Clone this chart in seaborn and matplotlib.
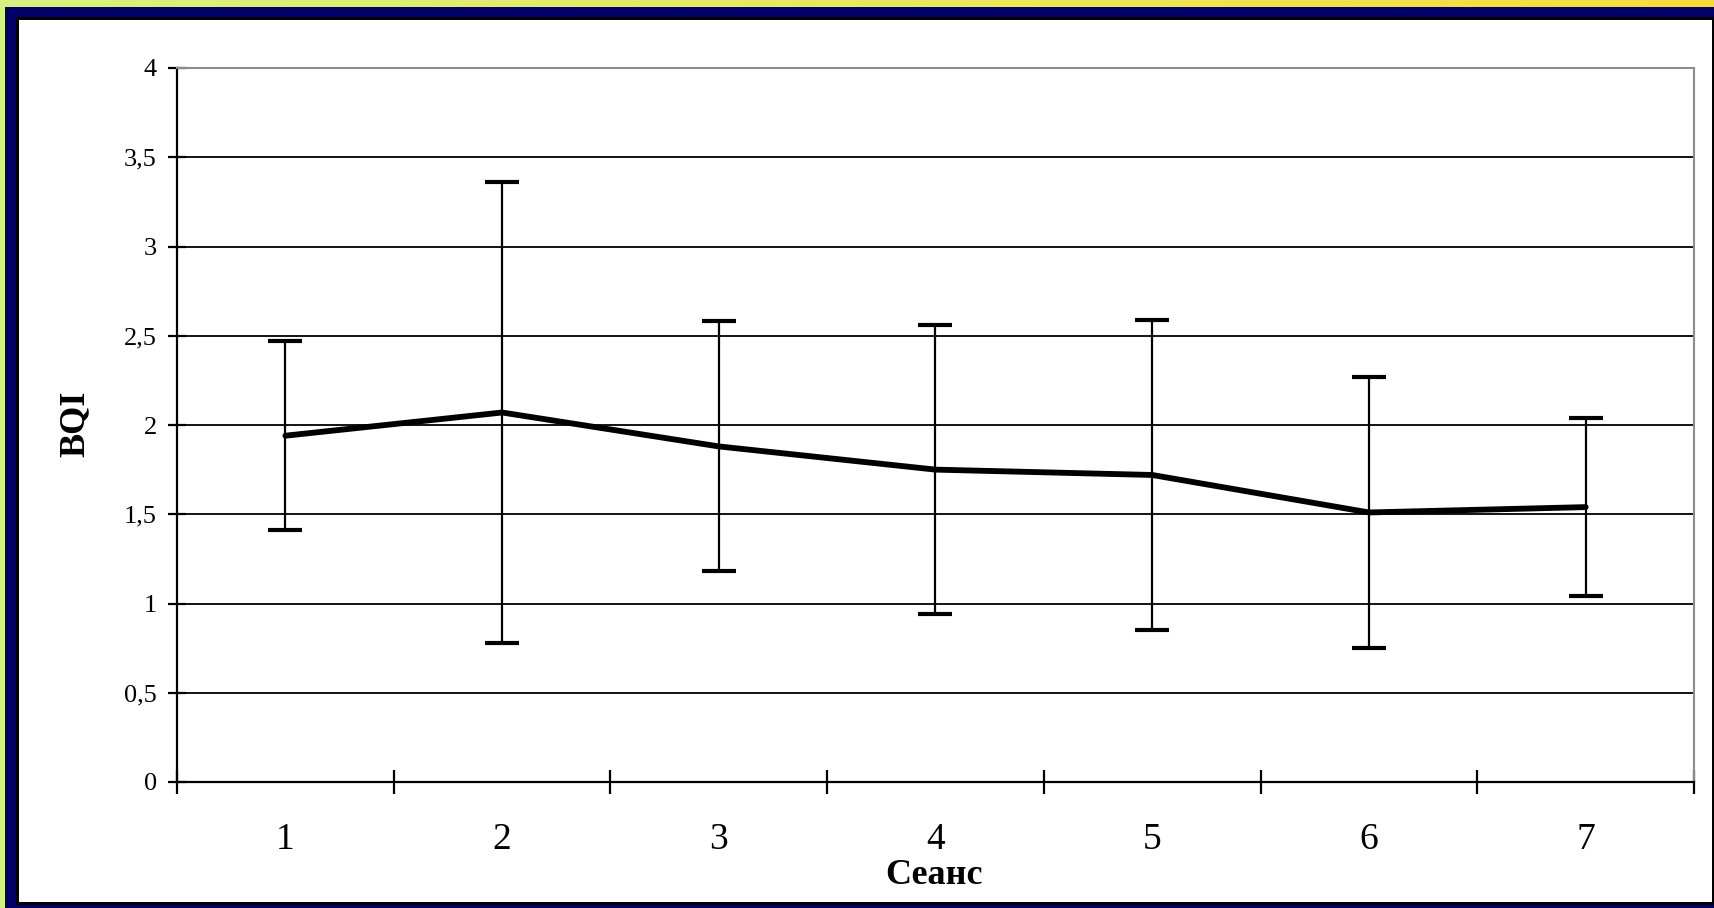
import numpy as np
import pandas as pd
import matplotlib
matplotlib.use("Agg")
import matplotlib.pyplot as plt
from matplotlib.patches import Rectangle
from matplotlib.colors import LinearSegmentedColormap
import seaborn as sns

sessions = [1, 2, 3, 4, 5, 6, 7]
bqi_mean = [1.94, 2.07, 1.88, 1.75, 1.72, 1.51, 1.54]
bqi_err = [0.53, 1.29, 0.70, 0.81, 0.87, 0.76, 0.50]
y_ticks = [0, 0.5, 1, 1.5, 2, 2.5, 3, 3.5, 4]
y_labels = ["0", "0,5", "1", "1,5", "2", "2,5", "3", "3,5", "4"]
x_label = "Сеанс"
y_label = "BQI"

sns.set_theme(style="white")
plt.rcParams["font.family"] = ["Liberation Serif", "DejaVu Serif"]

W, H = 1715, 908
fig = plt.figure(figsize=(W / 100, H / 100), dpi=100)

# background gradient frame
bg = fig.add_axes([0, 0, 1, 1], zorder=-10)
grad = np.linspace(0, 1, 256).reshape(1, -1)
cmap = LinearSegmentedColormap.from_list("yg", ["#d6f27e", "#e9ea60", "#f6dc3a"])
bg.imshow(grad, aspect="auto", cmap=cmap, extent=[0, 1, 0, 1])
bg.set_xlim(0, 1)
bg.set_ylim(0, 1)
bg.axis("off")

def px_rect(x0, y0, x1, y1, **kw):
    r = Rectangle((x0 / W, 1 - y1 / H), (x1 - x0) / W, (y1 - y0) / H,
                  transform=fig.transFigure, **kw)
    bg.add_patch(r)

px_rect(5, 7, W + 5, H + 5, facecolor="#000066", edgecolor="none")
px_rect(16, 17, 1715, 905, facecolor="black", edgecolor="none")
px_rect(19, 20, 1712, 902, facecolor="white", edgecolor="none")

ax = fig.add_axes([177 / W, 1 - 782 / H, (1694 - 177) / W, (782 - 68) / H])
ax.set_facecolor("none")

df = pd.DataFrame({"session": sessions, "bqi": bqi_mean, "err": bqi_err})
ax.errorbar(df["session"], df["bqi"], yerr=df["err"], fmt="none",
            ecolor="black", elinewidth=1.6, capsize=12.5, capthick=3.0, zorder=3)
sns.lineplot(data=df, x="session", y="bqi", color="black", linewidth=4.2,
             ax=ax, zorder=4)

ax.set_xlim(0.5, 7.5)
ax.set_ylim(0, 4)
ax.set_yticks(y_ticks)
ax.set_yticklabels(y_labels)
ax.set_xticks(np.arange(0.5, 8, 1))
ax.set_xticklabels([""] * 8)
ax.set_xticks(sessions, minor=True)
ax.set_xticklabels([str(s) for s in sessions], minor=True)

ax.tick_params(axis="x", which="major", direction="inout", length=17, width=1.6,
               color="black", bottom=True)
ax.tick_params(axis="x", which="minor", length=0, pad=29, labelsize=27,
               labelcolor="black", bottom=True)
ax.tick_params(axis="y", which="major", direction="inout", length=13, width=1.6,
               color="black", pad=8, labelsize=19, labelcolor="black", left=True)

ax.yaxis.grid(True, color="black", linewidth=1.3)
ax.set_axisbelow(True)

for side in ["left", "bottom"]:
    ax.spines[side].set_color("black")
    ax.spines[side].set_linewidth(1.6)
for side in ["top", "right"]:
    ax.spines[side].set_visible(True)
    ax.spines[side].set_color("#8c8c8c")
    ax.spines[side].set_linewidth(1.5)

ax.set_xlabel("")
ax.set_ylabel("")
fig.text(934 / W, 1 - 876 / H, x_label, ha="center", va="center",
         fontsize=26, fontweight="bold", color="black")
fig.text(75 / W, 1 - 424 / H, y_label, ha="center", va="center", rotation=90,
         fontsize=26, fontweight="bold", color="black")

fig.savefig("out.png", dpi=100)
